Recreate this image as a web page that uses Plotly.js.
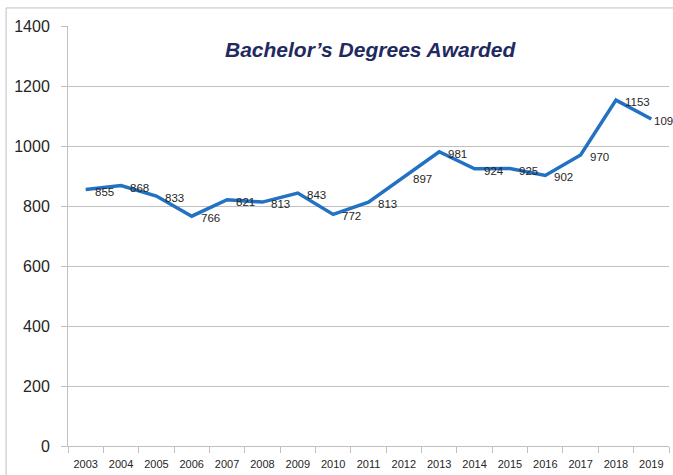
<!DOCTYPE html>
<html>
<head>
<meta charset="utf-8">
<script src="https://cdn.plot.ly/plotly-3.0.1.min.js"></script>
<style>html,body{margin:0;padding:0;background:#fff;}#chart{width:673px;height:475px;}</style>
</head>
<body>
<div id="chart"></div>
<script>
const years = ["2003","2004","2005","2006","2007","2008","2009","2010","2011","2012","2013","2014","2015","2016","2017","2018","2019"];
const degrees = [855, 868, 833, 766, 821, 813, 843, 772, 813, 897, 981, 924, 925, 902, 970, 1153, 1090];
const labels = ["855","868","833","766","821","813","843","772","813","897","981","924","925","902","970","1153","1090"];
const yTicks = [0, 200, 400, 600, 800, 1000, 1200, 1400];

const trace = {
  x: years,
  y: degrees,
  type: "scatter",
  mode: "lines",
  line: {color: "#2271C3", width: 3.5},
  hoverinfo: "x+y"
};

// category index i is the position of years[i] on the category axis
const dataLabels = years.map((yr, i) => ({
  x: i, y: degrees[i], xref: "x", yref: "y",
  text: labels[i],
  showarrow: false,
  xanchor: "left", yanchor: "middle",
  xshift: (i === years.length - 1) ? 1 : 7, yshift: -2,
  font: {family: "Liberation Sans, Arial, sans-serif", size: 11.5, color: "#262626"}
}));

const layout = {
  width: 673,
  height: 475,
  margin: {l: 68, r: 4, t: 26, b: 29},
  paper_bgcolor: "#ffffff",
  plot_bgcolor: "#ffffff",
  showlegend: false,
  xaxis: {
    type: "category",
    categoryorder: "array",
    categoryarray: years,
    range: [-0.5, years.length - 0.5],
    tickson: "boundaries",
    ticks: "outside",
    ticklen: 6,
    tickcolor: "#bfbfbf",
    tickangle: 0,
    showgrid: false,
    showline: true,
    linecolor: "#bfbfbf",
    linewidth: 1,
    ticklabelstandoff: 8,
    tickfont: {family: "Liberation Sans, Arial, sans-serif", size: 11, color: "#262626"},
    fixedrange: true
  },
  yaxis: {
    range: [0, 1400],
    tickvals: yTicks,
    ticktext: yTicks.map(String),
    ticks: "outside",
    ticklen: 6,
    tickcolor: "#c0c0c0",
    showgrid: true,
    gridcolor: "#c0c0c0",
    gridwidth: 1,
    zeroline: false,
    showline: true,
    linecolor: "#c0c0c0",
    linewidth: 1,
    ticklabelstandoff: 8,
    tickfont: {family: "Liberation Sans, Arial, sans-serif", size: 16, color: "#262626"},
    fixedrange: true
  },
  annotations: [{
    text: "<b><i>Bachelor’s Degrees Awarded</i></b>",
    xref: "paper", yref: "paper",
    x: 0.504, y: 0.943,
    xanchor: "center", yanchor: "middle",
    showarrow: false,
    font: {family: "Liberation Sans, Arial, sans-serif", size: 21, color: "#1F2A60"}
  }].concat(dataLabels),
  shapes: [{
    type: "rect",
    xref: "paper", yref: "paper",
    x0: -0.103, x1: 1.2, y0: -0.3, y1: 1.043,
    line: {color: "#bfbfbf", width: 1},
    fillcolor: "rgba(0,0,0,0)",
    layer: "below"
  }]
};

Plotly.newPlot("chart", [trace], layout, {displayModeBar: false, staticPlot: true});
</script>
</body>
</html>
